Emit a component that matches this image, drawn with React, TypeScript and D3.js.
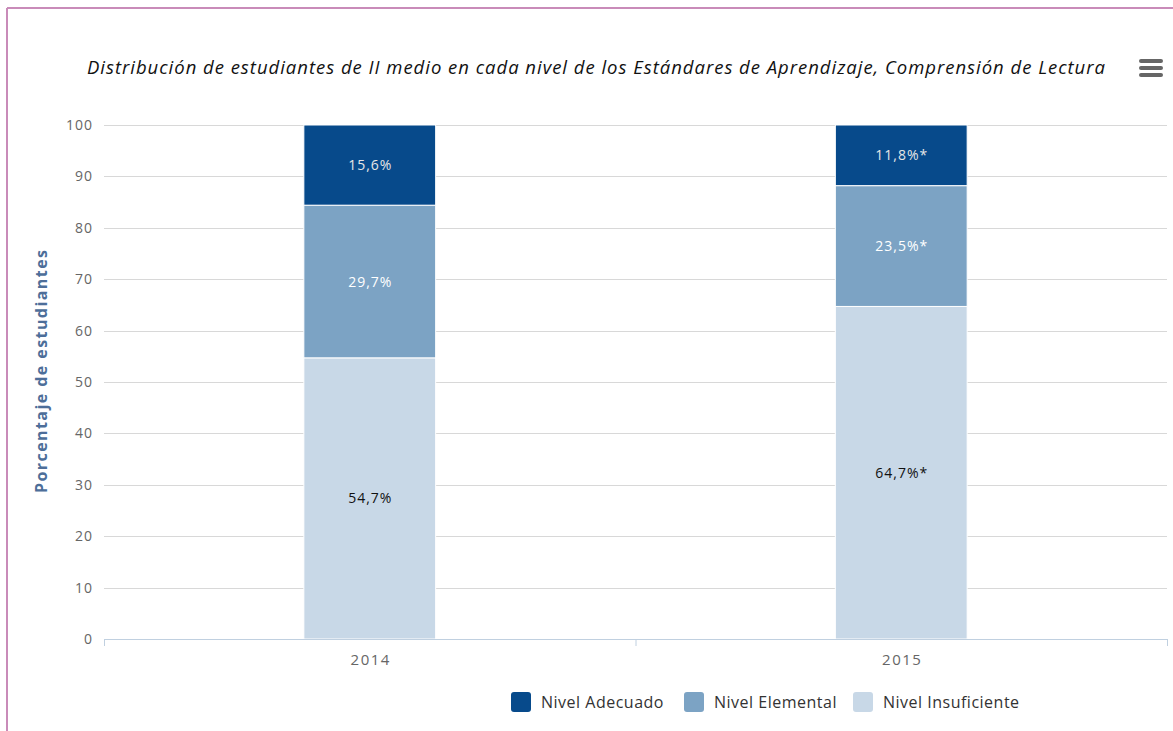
import React from "react";
import * as d3 from "d3";

const categories = ["2014", "2015"];
const seriesNames = ["Nivel Adecuado", "Nivel Elemental", "Nivel Insuficiente"];
const insuficiente = [54.7, 64.7];
const elemental = [29.7, 23.5];
const adecuado = [15.6, 11.8];
const insuficienteLabels = ["54,7%", "64,7%*"];
const elementalLabels = ["29,7%", "23,5%*"];
const adecuadoLabels = ["15,6%", "11,8%*"];
const yTicks = [0, 10, 20, 30, 40, 50, 60, 70, 80, 90, 100];

const colors: Record<string, string> = {
  "Nivel Adecuado": "#074a8b",
  "Nivel Elemental": "#7ca3c4",
  "Nivel Insuficiente": "#c8d8e7",
};
const labelColors: Record<string, string> = {
  "Nivel Adecuado": "#e6e6e6",
  "Nivel Elemental": "#ffffff",
  "Nivel Insuficiente": "#111111",
};

const W = 1173;
const H = 731;
const FONT = "'Open Sans', 'Noto Sans', sans-serif";

export default function App() {
  const left = 104, right = 1167, top = 125, bottom = 639;
  const x = d3.scaleBand<string>().domain(categories).range([left, right]).paddingInner(0).paddingOuter(0);
  const y = d3.scaleLinear().domain([0, 100]).range([bottom, top]);
  const barW = x.bandwidth() * 0.248;

  const stackData = categories.map((c, i) => ({
    cat: c,
    "Nivel Insuficiente": insuficiente[i],
    "Nivel Elemental": elemental[i],
    "Nivel Adecuado": adecuado[i],
  }));
  const stack = d3.stack<any>().keys(["Nivel Insuficiente", "Nivel Elemental", "Nivel Adecuado"]);
  const series = stack(stackData);
  const labelsBy: Record<string, string[]> = {
    "Nivel Insuficiente": insuficienteLabels,
    "Nivel Elemental": elementalLabels,
    "Nivel Adecuado": adecuadoLabels,
  };

  const legendX = [511, 684, 853];

  return (
    <svg width={W} height={H} style={{ position: "absolute", left: 0, top: 0, background: "#fff" }} fontFamily={FONT}>
      <rect x={0} y={0} width={W} height={H} fill="#fff" />
      <line x1={7} y1={8} x2={W} y2={8} stroke="#c98bb9" strokeWidth={2} />
      <line x1={7} y1={8} x2={7} y2={H} stroke="#c98bb9" strokeWidth={2} />

      <text x={87} y={74} fontStyle="italic" fontSize={18.5} fill="#111" textLength={1018} lengthAdjust="spacing">
        Distribución de estudiantes de II medio en cada nivel de los Estándares de Aprendizaje, Comprensión de Lectura
      </text>

      {[0, 1, 2].map((k) => (
        <rect key={k} x={1139} y={59 + k * 7} width={24} height={4} rx={2} fill="#666" />
      ))}

      {yTicks.filter((t) => t > 0).map((t) => (
        <line key={t} x1={left} x2={right} y1={Math.round(y(t)) + 0.5} y2={Math.round(y(t)) + 0.5} stroke="#d8d8d8" strokeWidth={1} />
      ))}
      {yTicks.map((t) => (
        <text key={t} x={93} y={y(t) + 5} textAnchor="end" fontSize={14} fill="#666" letterSpacing={1}>
          {t}
        </text>
      ))}

      <text
        transform={`translate(47, 372) rotate(-90)`}
        x={-121}
        fontSize={16}
        fontWeight="bold"
        fill="#4d6e99"
        textLength={243}
        lengthAdjust="spacing"
      >
        Porcentaje de estudiantes
      </text>

      {series.map((s) =>
        s.map((d, i) => {
          const cx = x(categories[i])! + x.bandwidth() / 2;
          const y0 = y(d[0]);
          const y1 = y(d[1]);
          return (
            <g key={s.key + i}>
              <rect
                x={cx - barW / 2}
                y={y1}
                width={barW}
                height={y0 - y1}
                fill={colors[s.key]}
                stroke="#fff"
                strokeWidth={1}
              />
              <text
                x={cx + 0.5}
                y={(y0 + y1) / 2 + 5}
                textAnchor="middle"
                fontSize={14}
                letterSpacing={1}
                fill={labelColors[s.key]}
              >
                {labelsBy[s.key][i]}
              </text>
            </g>
          );
        })
      )}

      <line x1={left} x2={right} y1={bottom + 0.5} y2={bottom + 0.5} stroke="#c0d0e0" strokeWidth={1} />
      {[left, left + x.bandwidth(), right].map((tx, k) => (
        <line key={k} x1={tx + 0.5} x2={tx + 0.5} y1={bottom} y2={bottom + 7} stroke="#c0d0e0" strokeWidth={1} />
      ))}
      {categories.map((c) => (
        <text key={c} x={x(c)! + x.bandwidth() / 2 + 1} y={bottom + 26} textAnchor="middle" fontSize={15} letterSpacing={1.5} fill="#666">
          {c}
        </text>
      ))}

      {seriesNames.map((n, k) => (
        <g key={n}>
          <rect x={legendX[k]} y={692} width={20} height={20} rx={3} fill={colors[n]} />
          <text x={legendX[k] + 30} y={708} fontSize={16} letterSpacing={0.5} fill="#333">
            {n}
          </text>
        </g>
      ))}
    </svg>
  );
}
